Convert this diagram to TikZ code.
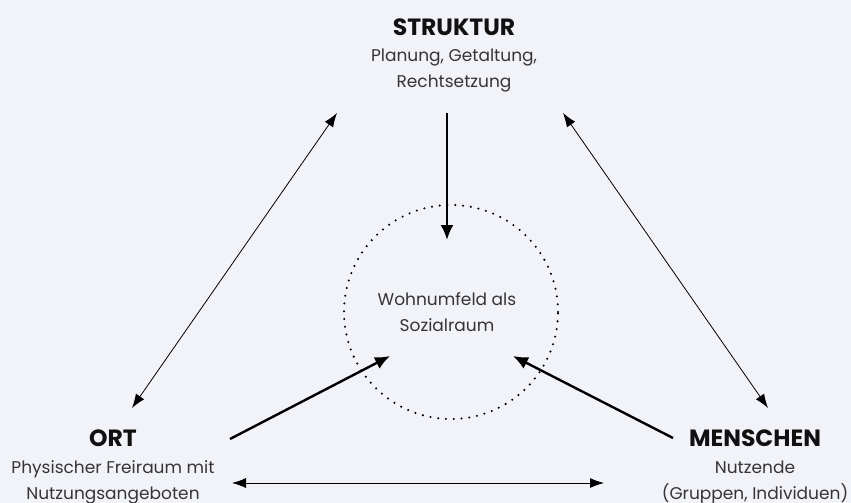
\documentclass[tikz,border=0pt]{standalone}
\usepackage{fontspec}
\setmainfont{Poppins}
\usetikzlibrary{arrows.meta}
\definecolor{bgcol}{HTML}{F2F3F8}
\definecolor{ink}{HTML}{111111}
\begin{document}
\begin{tikzpicture}[x=1pt,y=-1pt,
  title/.style={font=\bfseries\fontsize{23.5}{26}\selectfont, text=ink, inner sep=0pt},
  sub/.style={font=\fontsize{17}{26}\selectfont, text=ink!85, align=center, inner sep=0pt},
  thinlink/.style={line width=0.8pt, {Latex[length=14pt,width=10pt]}-{Latex[length=14pt,width=10pt]}},
  thicklink/.style={line width=2.4pt, -{Latex[length=15pt,width=13pt]}},
  dotring/.style={draw, line width=2.3pt, line cap=round, dash pattern=on 0pt off 7.8pt}
]
\fill[bgcol] (0,0) rectangle (851,503);
\useasboundingbox (0,0) rectangle (851,503);

% corner labels
\node[title] (struktur) at (454,27) {STRUKTUR};
\node[sub] (strukturtxt) at (454,71) {Planung, Getaltung,\\Rechtsetzung};
\node[title] (ort) at (113,438) {ORT};
\node[sub] (orttxt) at (113,482) {Physischer Freiraum mit\\Nutzungsangeboten};
\node[title] (menschen) at (755,438) {MENSCHEN};
\node[sub] (menschentxt) at (755,482) {Nutzende\\(Gruppen, Individuen)};

% central social space
\node[dotring, circle, minimum size=214pt, inner sep=0pt] (ring) at (451,312) {};
\node[sub] (ringtxt) at (447,312) {Wohnumfeld als\\Sozialraum};

% arrow end points
\coordinate (sTop) at (447,113);
\coordinate (sTip) at (447,240);
\coordinate (oStart) at (230,439);
\coordinate (oTip) at (390,356);
\coordinate (mStart) at (673,438);
\coordinate (mTip) at (513,356);
\coordinate (lUp) at (337,113);
\coordinate (lDown) at (132,408);
\coordinate (rUp) at (563,113);
\coordinate (rDown) at (768,408);
\coordinate (bL) at (232,483);
\coordinate (bR) at (604,483);

% influences on the social space
\draw[thicklink] (sTop) -- (sTip);
\draw[thicklink] (oStart) -- (oTip);
\draw[thicklink] (mStart) -- (mTip);

% mutual relations between the corners
\draw[thinlink] (lUp) -- (lDown);
\draw[thinlink] (rUp) -- (rDown);
\draw[thinlink] (bL) -- (bR);
\end{tikzpicture}
\end{document}
